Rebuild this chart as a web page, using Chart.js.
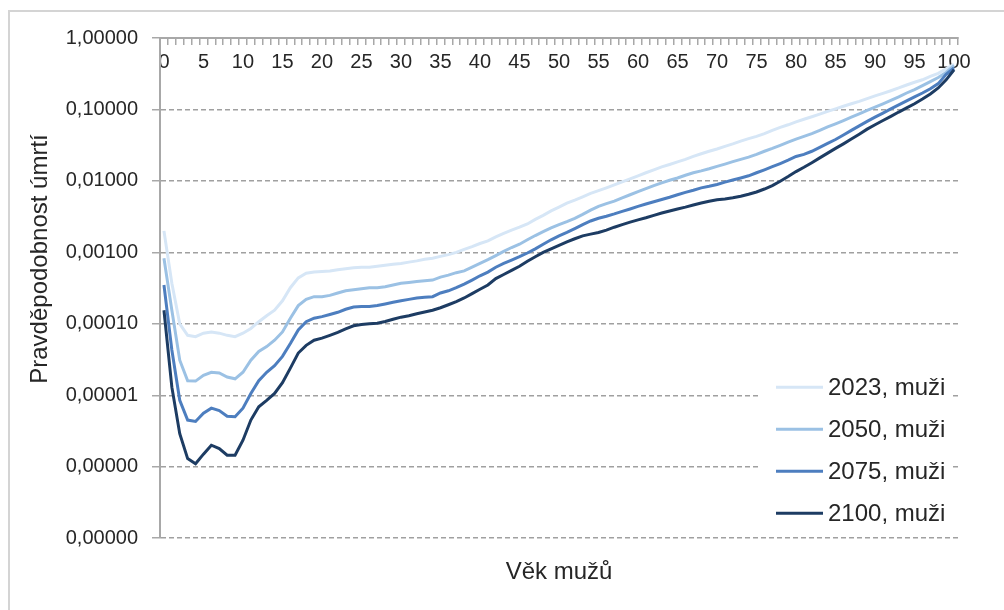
<!DOCTYPE html>
<html>
<head>
<meta charset="utf-8">
<script src="https://cdn.jsdelivr.net/npm/chart.js@4.4.1/dist/chart.umd.min.js"></script>
<style>
  html, body { margin: 0; padding: 0; background: #fff; }
  #wrap { position: relative; width: 1004px; height: 610px; overflow: hidden; }
  #frame { position: absolute; left: 8px; top: 10px; width: 1200px; height: 800px;
           border-top: 2px solid #d4d4d4; border-left: 2px solid #d4d4d4; }
  #myChart { position: absolute; left: 0; top: 0; }
</style>
</head>
<body>
<div id="wrap">
  <div id="frame"></div>
  <canvas id="myChart" width="1004" height="610"></canvas>
</div>
<script>
// vek 0..100
var ages = Array.from({ length: 101 }, (_, i) => String(i));

var yTicks = [1, 0.1, 0.01, 0.001, 0.0001, 0.00001, 0.000001, 0.0000001];

var seriesLabels = ['2023, muži', '2050, muži', '2075, muži', '2100, muži'];
var seriesColors = ['#d6e6f6', '#9bc1e4', '#4d7ebf', '#1d3c63'];

var m2023 = [
  2.0e-3, 3.7e-4, 1.0e-4, 6.9e-5, 6.6e-5, 7.4e-5, 7.7e-5, 7.4e-5, 6.9e-5, 6.6e-5,
  7.4e-5, 8.6e-5, 1.07e-4, 1.3e-4, 1.55e-4, 2.1e-4, 3.2e-4, 4.4e-4, 5.1e-4, 5.3e-4,
  5.4e-4, 5.5e-4, 5.7e-4, 5.9e-4, 6.1e-4, 6.2e-4, 6.2e-4, 6.4e-4, 6.6e-4, 6.8e-4,
  7.0e-4, 7.3e-4, 7.6e-4, 8.0e-4, 8.3e-4, 8.8e-4, 9.3e-4, 1.0e-3, 1.1e-3, 1.2e-3,
  1.33e-3, 1.45e-3, 1.65e-3, 1.85e-3, 2.05e-3, 2.25e-3, 2.5e-3, 2.9e-3, 3.3e-3, 3.8e-3,
  4.3e-3, 4.9e-3, 5.4e-3, 6.0e-3, 6.7e-3, 7.3e-3, 8.0e-3, 8.8e-3, 9.7e-3, 1.07e-2,
  1.18e-2, 1.3e-2, 1.43e-2, 1.57e-2, 1.7e-2, 1.85e-2, 2.0e-2, 2.2e-2, 2.4e-2, 2.6e-2,
  2.8e-2, 3.05e-2, 3.3e-2, 3.6e-2, 3.9e-2, 4.2e-2, 4.6e-2, 5.1e-2, 5.6e-2, 6.1e-2,
  6.7e-2, 7.3e-2, 7.9e-2, 8.6e-2, 9.4e-2, 0.102, 0.111, 0.12, 0.13, 0.142,
  0.155, 0.168, 0.183, 0.2, 0.22, 0.24, 0.26, 0.29, 0.32, 0.37,
  0.43
];

var m2050 = [
  8.3e-4, 1.55e-4, 3.1e-5, 1.6e-5, 1.58e-5, 1.9e-5, 2.1e-5, 2.05e-5, 1.8e-5, 1.7e-5,
  2.1e-5, 3.1e-5, 4.1e-5, 4.8e-5, 5.9e-5, 7.7e-5, 1.2e-4, 1.8e-4, 2.2e-4, 2.4e-4,
  2.4e-4, 2.5e-4, 2.7e-4, 2.9e-4, 3.0e-4, 3.1e-4, 3.2e-4, 3.2e-4, 3.3e-4, 3.5e-4,
  3.7e-4, 3.8e-4, 3.9e-4, 4.0e-4, 4.1e-4, 4.5e-4, 4.8e-4, 5.2e-4, 5.5e-4, 6.2e-4,
  7.0e-4, 7.9e-4, 9.0e-4, 1.03e-3, 1.17e-3, 1.3e-3, 1.5e-3, 1.72e-3, 1.95e-3, 2.2e-3,
  2.45e-3, 2.7e-3, 3.0e-3, 3.4e-3, 3.9e-3, 4.4e-3, 4.8e-3, 5.2e-3, 5.8e-3, 6.4e-3,
  7.1e-3, 7.8e-3, 8.6e-3, 9.4e-3, 1.02e-2, 1.1e-2, 1.2e-2, 1.3e-2, 1.38e-2, 1.48e-2,
  1.6e-2, 1.72e-2, 1.86e-2, 2.0e-2, 2.15e-2, 2.35e-2, 2.6e-2, 2.85e-2, 3.15e-2, 3.5e-2,
  3.85e-2, 4.2e-2, 4.6e-2, 5.1e-2, 5.7e-2, 6.3e-2, 7.0e-2, 7.8e-2, 8.7e-2, 9.7e-2,
  0.108, 0.12, 0.134, 0.15, 0.17, 0.19, 0.215, 0.245, 0.28, 0.33,
  0.41
];

var m2075 = [
  3.5e-4, 4.3e-5, 8.5e-6, 4.5e-6, 4.3e-6, 5.6e-6, 6.6e-6, 6.1e-6, 5.1e-6, 5.0e-6,
  6.6e-6, 1.06e-5, 1.6e-5, 2.1e-5, 2.6e-5, 3.5e-5, 5.3e-5, 8.2e-5, 1.07e-4, 1.2e-4,
  1.26e-4, 1.35e-4, 1.45e-4, 1.6e-4, 1.72e-4, 1.75e-4, 1.75e-4, 1.8e-4, 1.9e-4, 2.0e-4,
  2.1e-4, 2.2e-4, 2.3e-4, 2.35e-4, 2.4e-4, 2.7e-4, 2.9e-4, 3.2e-4, 3.6e-4, 4.1e-4,
  4.7e-4, 5.3e-4, 6.2e-4, 7.0e-4, 7.8e-4, 8.7e-4, 9.8e-4, 1.12e-3, 1.3e-3, 1.5e-3,
  1.7e-3, 1.9e-3, 2.15e-3, 2.45e-3, 2.75e-3, 3.0e-3, 3.2e-3, 3.45e-3, 3.75e-3, 4.05e-3,
  4.4e-3, 4.75e-3, 5.1e-3, 5.5e-3, 5.9e-3, 6.4e-3, 6.9e-3, 7.4e-3, 8.0e-3, 8.4e-3,
  8.9e-3, 9.6e-3, 1.03e-2, 1.1e-2, 1.18e-2, 1.3e-2, 1.43e-2, 1.58e-2, 1.75e-2, 1.95e-2,
  2.2e-2, 2.35e-2, 2.6e-2, 2.95e-2, 3.35e-2, 3.8e-2, 4.4e-2, 5.1e-2, 5.9e-2, 6.8e-2,
  7.8e-2, 8.9e-2, 0.102, 0.116, 0.132, 0.15, 0.17, 0.195, 0.23, 0.31,
  0.38
];

var m2100 = [
  1.55e-4, 1.3e-5, 2.9e-6, 1.3e-6, 1.1e-6, 1.5e-6, 2.0e-6, 1.8e-6, 1.45e-6, 1.45e-6,
  2.35e-6, 4.5e-6, 6.9e-6, 8.5e-6, 1.06e-5, 1.5e-5, 2.4e-5, 3.9e-5, 5.0e-5, 5.9e-5,
  6.3e-5, 6.9e-5, 7.6e-5, 8.5e-5, 9.4e-5, 9.8e-5, 1.0e-4, 1.02e-4, 1.08e-4, 1.16e-4,
  1.24e-4, 1.3e-4, 1.38e-4, 1.46e-4, 1.55e-4, 1.68e-4, 1.85e-4, 2.05e-4, 2.3e-4, 2.65e-4,
  3.05e-4, 3.5e-4, 4.3e-4, 4.9e-4, 5.6e-4, 6.4e-4, 7.5e-4, 8.7e-4, 1.0e-3, 1.12e-3,
  1.25e-3, 1.4e-3, 1.55e-3, 1.7e-3, 1.8e-3, 1.9e-3, 2.05e-3, 2.25e-3, 2.45e-3, 2.65e-3,
  2.85e-3, 3.05e-3, 3.3e-3, 3.55e-3, 3.8e-3, 4.05e-3, 4.3e-3, 4.6e-3, 4.9e-3, 5.2e-3,
  5.45e-3, 5.6e-3, 5.8e-3, 6.1e-3, 6.5e-3, 7.0e-3, 7.7e-3, 8.6e-3, 9.9e-3, 1.15e-2,
  1.35e-2, 1.55e-2, 1.8e-2, 2.1e-2, 2.45e-2, 2.85e-2, 3.3e-2, 3.85e-2, 4.5e-2, 5.3e-2,
  6.1e-2, 7.0e-2, 8.0e-2, 9.2e-2, 0.105, 0.12, 0.14, 0.165, 0.2, 0.26,
  0.36
];

var seriesData = [m2023, m2050, m2075, m2100];

var FONT = 'Liberation Sans, Arial, sans-serif';
var TEXT = '#262626';
var AXIS = '#a8a8a8';

// legenda vpravo dole uvnitr grafu
var legendBox = {
    id: 'legendBox',
    afterDatasetsDraw(chart) {
        const ctx = chart.ctx;
        const a = chart.chartArea;
        ctx.save();
        ctx.fillStyle = '#fff';
        ctx.fillRect(a.right - 200, a.bottom - 174, 194, 168);
        ctx.font = '24px ' + FONT;
        ctx.textBaseline = 'middle';
        chart.data.datasets.forEach((ds, i) => {
            const y = a.bottom - 151 + i * 42;
            ctx.strokeStyle = ds.borderColor;
            ctx.lineWidth = 3;
            ctx.beginPath();
            ctx.moveTo(a.right - 182, y);
            ctx.lineTo(a.right - 135, y);
            ctx.stroke();
            ctx.fillStyle = TEXT;
            ctx.fillText(ds.label, a.right - 130, y + 1);
        });
        ctx.restore();
    }
};

// nazev osy y - posunuty vys nez stred osy
var yTitle = {
    id: 'yTitle',
    afterDraw(chart) {
        const ctx = chart.ctx;
        ctx.save();
        ctx.translate(40, 259);
        ctx.rotate(-Math.PI / 2);
        ctx.font = '24px ' + FONT;
        ctx.fillStyle = TEXT;
        ctx.textAlign = 'center';
        ctx.textBaseline = 'middle';
        ctx.fillText('Pravděpodobnost úmrtí', 0, 0);
        ctx.restore();
    }
};

var ctx = document.getElementById('myChart').getContext('2d');
var myChart = new Chart(ctx, {
    type: 'line',
    data: {
        labels: ages,
        datasets: seriesLabels.map((label, i) => ({
            label: label,
            data: seriesData[i],
            borderColor: seriesColors[i],
            backgroundColor: seriesColors[i],
            borderWidth: 3,
            pointRadius: 0,
            tension: 0,
            order: 3 - i
        }))
    },
    options: {
        responsive: false,
        animation: false,
        layout: { padding: { left: 0, top: 28, right: 46, bottom: 0 } },
        plugins: {
            legend: { display: false },
            tooltip: { enabled: false },
            title: {
                display: true,
                text: 'Věk mužů',
                position: 'bottom',
                fullSize: false,
                color: TEXT,
                font: { family: FONT, size: 24, weight: 'normal' },
                padding: { top: 20, bottom: 23 }
            }
        },
        scales: {
            x: {
                type: 'category',
                position: 'top',
                offset: true,
                afterFit: (s) => { s.height = 10; },
                grid: {
                    offset: true,
                    drawOnChartArea: false,
                    drawTicks: true,
                    tickLength: -7,
                    color: AXIS,
                    lineWidth: 1.5
                },
                border: { color: AXIS, width: 2 },
                ticks: {
                    autoSkip: false,
                    maxRotation: 0,
                    mirror: true,
                    padding: 12,
                    color: TEXT,
                    font: { family: FONT, size: 20 },
                    callback: function (val, i) {
                        return i % 5 === 0 ? this.getLabelForValue(val) : '';
                    }
                }
            },
            y: {
                type: 'logarithmic',
                min: 1e-7,
                max: 1,
                afterFit: (s) => { s.width = 160; },
                afterBuildTicks: (s) => { s.ticks = yTicks.map(v => ({ value: v })); },
                grid: {
                    color: '#a0a0a0',
                    lineWidth: 1.5,
                    tickLength: 8,
                    tickBorderDash: [],
                    tickColor: AXIS
                },
                border: { color: AXIS, width: 2, dash: [5, 3] },
                ticks: {
                    padding: 14,
                    color: TEXT,
                    font: { family: FONT, size: 20 },
                    callback: (v) => Number(v).toFixed(5).replace('.', ',')
                },
                title: { display: false }
            }
        }
    },
    plugins: [legendBox, yTitle]
});
</script>
</body>
</html>
